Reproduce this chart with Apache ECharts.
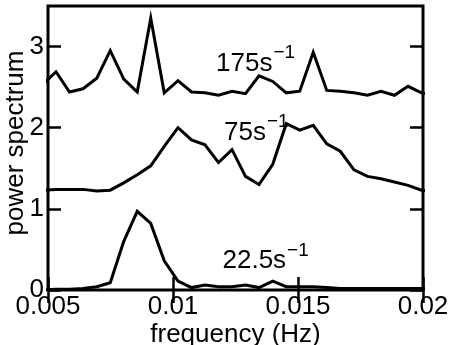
<!DOCTYPE html>
<html><head><meta charset="utf-8">
<script src="https://cdn.jsdelivr.net/npm/echarts@6/dist/echarts.min.js"></script>
<style>html,body{margin:0;padding:0;background:#fff}#c{width:453px;height:345px}</style>
</head><body><div id="c"></div>
<script>
// frequency (Hz) of each sample (first and last lie just outside the axis range and are clipped)
const frequency = [0.004778, 0.00532, 0.00586, 0.00640, 0.00695, 0.00749, 0.00803, 0.00857, 0.00911, 0.00965,
  0.01020, 0.01074, 0.01128, 0.01182, 0.01236, 0.01290, 0.01344, 0.01399, 0.01453, 0.01507,
  0.01561, 0.01615, 0.01669, 0.01724, 0.01778, 0.01832, 0.01886, 0.01940, 0.01994, 0.02049];
const power175 = [2.53, 2.69, 2.44, 2.48, 2.61, 2.95, 2.60, 2.44, 3.35, 2.43,
  2.58, 2.44, 2.43, 2.40, 2.45, 2.42, 2.64, 2.57, 2.43, 2.45,
  2.93, 2.46, 2.45, 2.43, 2.40, 2.45, 2.40, 2.51, 2.43, 2.40];
const power75 = [1.23, 1.24, 1.24, 1.24, 1.22, 1.23, 1.32, 1.42, 1.53, 1.77,
  2.00, 1.85, 1.79, 1.57, 1.73, 1.40, 1.30, 1.55, 2.05, 1.97,
  2.03, 1.80, 1.71, 1.48, 1.40, 1.37, 1.33, 1.29, 1.23, 1.21];
const power22 = [0.00, 0.01, 0.01, 0.02, 0.04, 0.09, 0.60, 0.97, 0.82, 0.36,
  0.11, 0.03, 0.06, 0.04, 0.04, 0.06, 0.03, 0.11, 0.04, 0.04,
  0.04, 0.03, 0.02, 0.02, 0.02, 0.02, 0.02, 0.02, 0.02, 0.02];
const xTicks = [0.005, 0.01, 0.015, 0.02];
const xTickLabels = ['0.005', '0.01', '0.015', '0.02'];
const yTicks = [0, 1, 2, 3];
const yTickLabels = ['0', '1', '2', '3'];
// curve annotations: text and the data point at the top-left of the main text
const curveLabels = [
  {main: '175s', sup: '\u22121', f: 0.01172, p: 2.905},
  {main: '75s', sup: '\u22121', f: 0.01204, p: 2.061},
  {main: '22.5s', sup: '\u22121', f: 0.01198, p: 0.473}
];
const xName = 'frequency (Hz)';
const yName = 'power spectrum';

const FONT = '"Liberation Sans", Arial, Helvetica, sans-serif';
const chart = echarts.init(document.getElementById('c'), null, {renderer: 'canvas'});
const zip = vals => frequency.map((f, i) => [f, vals[i]]);
const lineSeries = vals => ({
  type: 'line', data: zip(vals), showSymbol: false, symbol: 'none', clip: true,
  lineStyle: {color: '#000', width: 3, join: 'miter', miterLimit: 10}, animation: false, silent: true
});
const tickStyle = {show: true, inside: true, length: 13, lineStyle: {color: '#000', width: 2.5}};
chart.setOption({
  animation: false,
  backgroundColor: '#fff',
  grid: {left: 48, right: 30, top: 6, bottom: 55, containLabel: false, outerBoundsMode: 'none',
    show: true, borderColor: '#000', borderWidth: 3, backgroundColor: 'transparent'},
  xAxis: [{
    type: 'value', min: 0.005, max: 0.02, interval: 0.005, position: 'bottom',
    axisLine: {show: false}, splitLine: {show: false},
    axisTick: Object.assign({customValues: xTicks}, tickStyle),
    axisLabel: {customValues: xTicks, formatter: v => xTickLabels[xTicks.findIndex(t => Math.abs(t - v) < 1e-9)] || '',
      color: '#000', fontSize: 26, fontFamily: FONT, margin: 4, showMinLabel: true, showMaxLabel: true},
    name: xName, nameLocation: 'middle', nameGap: 32, nameMoveOverlap: false,
    nameTextStyle: {color: '#000', fontSize: 26, fontFamily: FONT, verticalAlign: 'top'}
  }, {
    type: 'value', min: 0.005, max: 0.02, interval: 0.005, position: 'top',
    axisLine: {show: false}, splitLine: {show: false},
    axisTick: Object.assign({customValues: xTicks}, tickStyle),
    axisLabel: {show: false}
  }],
  yAxis: [{
    type: 'value', min: 0, max: 3.5, interval: 1, position: 'left',
    axisLine: {show: false}, splitLine: {show: false},
    axisTick: Object.assign({customValues: yTicks}, tickStyle),
    axisLabel: {customValues: yTicks, formatter: v => yTickLabels[yTicks.indexOf(Math.round(v))] || '',
      color: '#000', fontSize: 26, fontFamily: FONT, margin: 4},
    name: yName, nameLocation: 'middle', nameGap: 19, nameMoveOverlap: false,
    nameTextStyle: {color: '#000', fontSize: 26, fontFamily: FONT, padding: [0, 0, 0, 10]}
  }, {
    type: 'value', min: 0, max: 3.5, interval: 1, position: 'right',
    axisLine: {show: false}, splitLine: {show: false},
    axisTick: Object.assign({customValues: yTicks}, tickStyle),
    axisLabel: {show: false}
  }],
  series: [lineSeries(power175), lineSeries(power75), lineSeries(power22)]
});
const measureCtx = document.createElement('canvas').getContext('2d');
const textWidth = (t, size) => { measureCtx.font = size + 'px ' + FONT; return measureCtx.measureText(t).width; };
const graphics = [];
curveLabels.forEach(l => {
  const pt = chart.convertToPixel({gridIndex: 0}, [l.f, l.p]);
  graphics.push({
    type: 'text', x: pt[0], y: pt[1] - 3.4, z: 10, silent: true,
    style: {text: l.main, font: '26px ' + FONT, fill: '#000', align: 'left', verticalAlign: 'top'}
  });
  graphics.push({
    type: 'text', x: pt[0] + textWidth(l.main, 26) + 1, y: pt[1] - 8.3 - 2.5, z: 10, silent: true,
    style: {text: l.sup, font: '19px ' + FONT, fill: '#000', align: 'left', verticalAlign: 'top'}
  });
});
chart.setOption({graphic: graphics});
</script>
</body></html>
